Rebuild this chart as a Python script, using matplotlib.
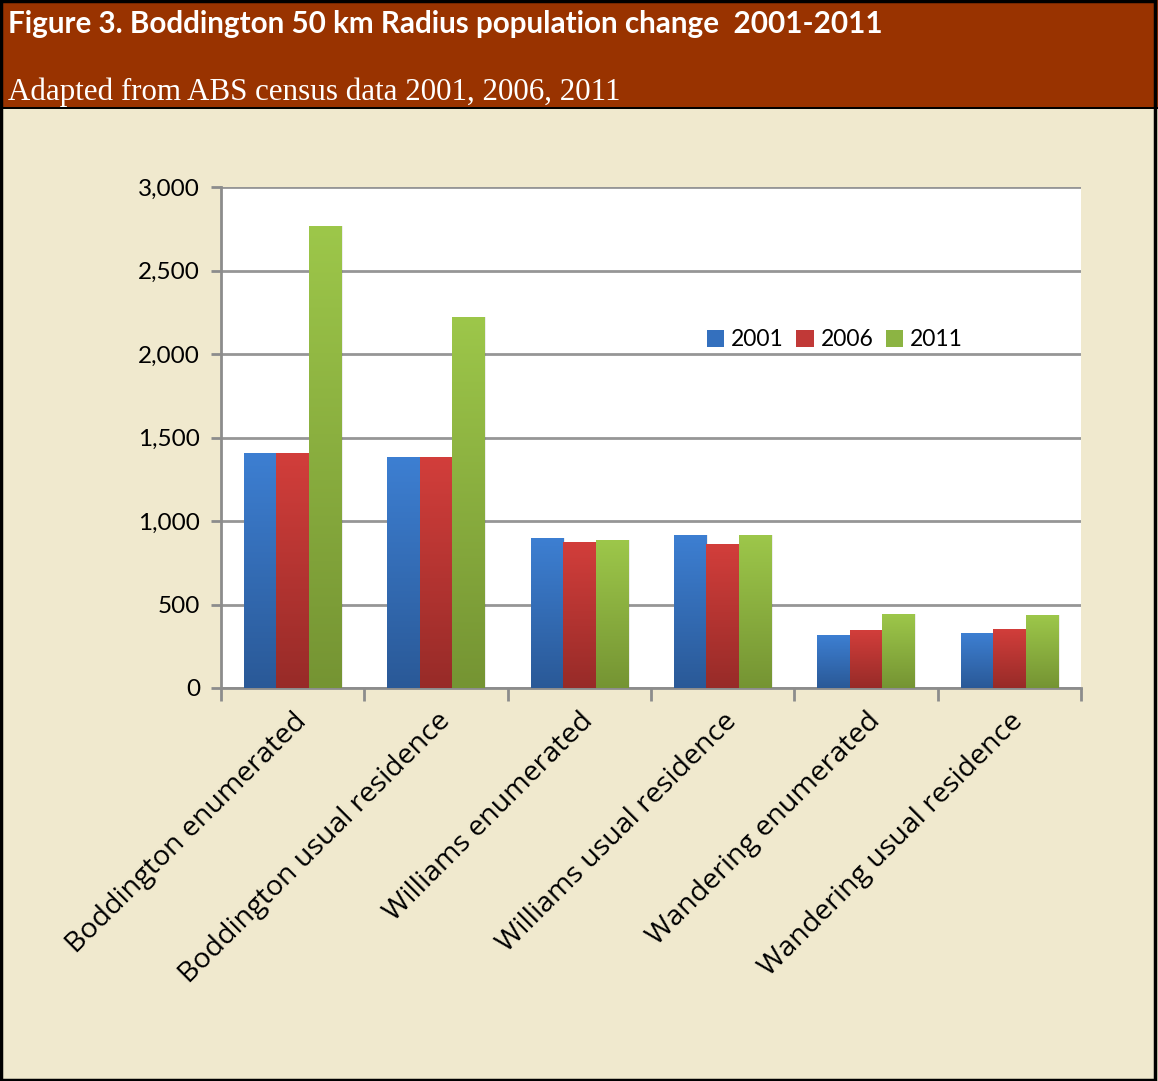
import matplotlib
matplotlib.use("Agg")
import matplotlib.pyplot as plt
import numpy as np
from matplotlib.patches import Rectangle
from matplotlib.colors import LinearSegmentedColormap
from matplotlib.ticker import FuncFormatter, FixedLocator

categories = ["Boddington enumerated", "Boddington usual residence", "Williams enumerated",
              "Williams usual residence", "Wandering enumerated", "Wandering usual residence"]
series_names = ["2001", "2006", "2011"]
v2001 = [1407, 1383, 898, 916, 317, 329]
v2006 = [1407, 1383, 874, 862, 347, 353]
v2011 = [2766, 2222, 886, 916, 443, 437]
yticks = [0, 500, 1000, 1500, 2000, 2500, 3000]

top_cols = ["#3D7FD2", "#D23E3B", "#9DC74A"]
bot_cols = ["#2A5997", "#972B28", "#759433"]
legend_cols = ["#3470BE", "#C13937", "#8CB443"]

W, H = 1158, 1081
fig = plt.figure(figsize=(W / 100, H / 100), dpi=100, facecolor="#F0E9CE")

# header band
fig.patches.append(Rectangle((0, (H - 108) / H), 1, 108 / H, transform=fig.transFigure,
                             facecolor="#993300", edgecolor="none", zorder=0))
fig.patches.append(Rectangle((0, (H - 109) / H), 1, 2 / H, transform=fig.transFigure,
                             facecolor="black", edgecolor="none", zorder=1))
# border
fig.patches.append(Rectangle((1 / W, 1 / H), 1 - 4 / W, 1 - 2 / H, transform=fig.transFigure,
                             facecolor="none", edgecolor="black", lw=2.5, zorder=5))

fig.text(8 / W, 1 - 24 / H, "Figure 3. Boddington 50 km Radius population change  2001-2011",
         color="white", fontsize=21.3, fontweight="bold", family="Lato", va="center", ha="left")
fig.text(8 / W, 1 - 92 / H, "Adapted from ABS census data 2001, 2006, 2011",
         color="white", fontsize=22.3, family="Liberation Serif", va="center", ha="left")

ax = fig.add_axes([221 / W, (H - 688) / H, 860 / W, 501 / H])
ax.set_facecolor("white")
ax.set_xlim(0, len(categories))
ax.set_ylim(0, 3000)

x = np.arange(len(categories)) + 0.5
bw = 0.226
grad = np.linspace(1, 0, 256).reshape(-1, 1)
all_vals = [v2001, v2006, v2011]
for i, vals in enumerate(all_vals):
    cmap = LinearSegmentedColormap.from_list("g%d" % i, [bot_cols[i], top_cols[i]])
    offs = (i - 1) * bw
    # shadow
    ax.bar(x + offs + 0.012, vals, bw, bottom=0, color="#000000", alpha=0.07, zorder=2, linewidth=0)
    bars = ax.bar(x + offs, vals, bw, color="none", linewidth=0, zorder=3,
                  label=series_names[i])
    for b in bars:
        x0, y0 = b.get_x(), b.get_y()
        w, h = b.get_width(), b.get_height()
        im = ax.imshow(grad, cmap=cmap, aspect="auto", extent=[x0, x0 + w, y0, y0 + h],
                       zorder=3, interpolation="bilinear", vmin=0, vmax=1)
        im.set_clip_path(b)

ax.set_xlim(0, len(categories))
ax.set_ylim(0, 3000)

ax.yaxis.set_major_locator(FixedLocator(yticks))
ax.yaxis.set_major_formatter(FuncFormatter(lambda v, p: f"{int(v):,}"))
ax.grid(axis="y", color="#969696", lw=2, zorder=1)
ax.set_axisbelow(True)

ax.set_xticks(np.arange(len(categories) + 1))
ax.set_xticklabels([])
ax.set_xticks(x, minor=True)
ax.set_xticklabels(categories, minor=True, rotation=45, ha="right", rotation_mode="anchor",
                   fontsize=20.5, family="Open Sans")
ax.tick_params(axis="x", which="minor", length=0, pad=14)
ax.tick_params(axis="x", which="major", length=9, width=2, color="#8C8C8C")
ax.tick_params(axis="y", length=7, width=2, color="#8C8C8C", labelsize=17.5, pad=8)
for lab in ax.get_yticklabels():
    lab.set_family("Lato")

for s in ["top", "right"]:
    ax.spines[s].set_visible(False)
for s in ["left", "bottom"]:
    ax.spines[s].set_color("#8C8C8C")
    ax.spines[s].set_linewidth(2)

handles = [Rectangle((0, 0), 1, 1, facecolor=c, edgecolor="none") for c in legend_cols]
fig.legend(handles, series_names, loc="center", bbox_to_anchor=(835 / W, 1 - 340 / H),
           ncol=3, frameon=False, handlelength=0.75, handleheight=0.75,
           columnspacing=0.55, handletextpad=0.3, prop={"family": "Lato", "size": 16.5})

fig.savefig("out.png", dpi=100, facecolor=fig.get_facecolor())
